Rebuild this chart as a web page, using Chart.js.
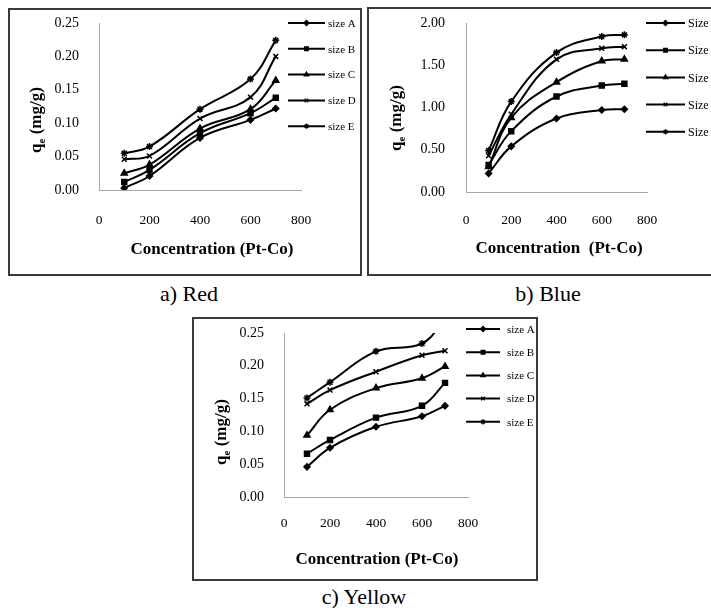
<!DOCTYPE html>
<html>
<head>
<meta charset="utf-8">
<script src="https://cdn.jsdelivr.net/npm/chart.js@4.4.1/dist/chart.umd.min.js"></script>
<style>
  body { margin: 0; background: #fff; width: 711px; height: 608px; overflow: hidden; position: relative; font-family: 'Liberation Serif', 'Times New Roman', serif; }
  .frame { position: absolute; border: 2px solid #3a3a3a; box-sizing: border-box; }
  canvas { position: absolute; }
  .cap { position: absolute; font-size: 22px; transform: translate(-50%, -50%); white-space: nowrap; color: #000; }
</style>
</head>
<body>
<div class="frame" style="left:8px;top:8px;width:354px;height:268px"></div>
<div class="frame" style="left:367px;top:7px;width:360px;height:269px"></div>
<div class="frame" style="left:192px;top:317px;width:346px;height:264px"></div>
<canvas id="chartRed" style="left:10px;top:10px" width="350" height="264"></canvas>
<canvas id="chartBlue" style="left:369px;top:9px" width="342" height="265"></canvas>
<canvas id="chartYellow" style="left:194px;top:319px" width="342" height="260"></canvas>
<div class="cap" style="left:189px;top:294px">a) Red</div>
<div class="cap" style="left:548px;top:294px">b) Blue</div>
<div class="cap" style="left:364px;top:597px">c) Yellow</div>
<script>
// concentration (Pt-Co) where qe was measured
const concentration = [100, 200, 400, 600, 700];
const sizeNames = ['size A', 'size B', 'size C', 'size D', 'size E'];
const sizeNamesBlue = ['Size A', 'Size B', 'Size C', 'Size D', 'Size E'];

// Red dye, qe (mg/g)
const redA = [0.003, 0.021, 0.078, 0.105, 0.122];
const redB = [0.012, 0.030, 0.085, 0.115, 0.138];
const redC = [0.025, 0.038, 0.092, 0.121, 0.164];
const redD = [0.046, 0.051, 0.107, 0.139, 0.200];
const redE = [0.055, 0.065, 0.121, 0.166, 0.224];

// Blue dye
const blueA = [0.22, 0.54, 0.87, 0.97, 0.98];
const blueB = [0.32, 0.72, 1.13, 1.26, 1.28];
const blueC = [0.30, 0.88, 1.30, 1.55, 1.57];
const blueD = [0.43, 0.92, 1.57, 1.70, 1.72];
const blueE = [0.49, 1.07, 1.65, 1.84, 1.86];

// Yellow dye (size E runs off the top of the axis at 700)
const yellowA = [0.046, 0.075, 0.107, 0.123, 0.139];
const yellowB = [0.066, 0.087, 0.121, 0.139, 0.174];
const yellowC = [0.094, 0.133, 0.166, 0.181, 0.199];
const yellowD = [0.142, 0.163, 0.191, 0.216, 0.223];
const yellowE = [0.151, 0.175, 0.222, 0.234, 0.272];

const markerStyles = ['rectRot', 'rect', 'triangle', 'crossRot', 'star'];
const markerSizes = [3, 3.5, 3.5, 3.5, 3.5];
const serif = "'Liberation Serif', 'Times New Roman', serif";

function buildDatasets(names, seriesList) {
	return seriesList.map((values, i) => ({
		label: names[i],
		data: concentration.map((c, j) => ({ x: c, y: values[j] })),
		borderColor: '#000',
		backgroundColor: '#000',
		borderWidth: 2,
		tension: 0.4,
		pointStyle: markerStyles[i],
		pointRadius: markerSizes[i],
		pointBorderWidth: 1.5,
		pointBorderColor: '#000',
		pointBackgroundColor: '#000'
	}));
}

// draws legend and the two axis titles at fixed spots in the canvas
const panelDecor = {
	id: 'panelDecor',
	afterDraw(chart, args, opts) {
		const ctx = chart.ctx;
		ctx.save();
		// legend
		chart.data.datasets.forEach((ds, i) => {
			let y = opts.legend.y + i * opts.legend.step;
			ctx.strokeStyle = '#000';
			ctx.lineWidth = 2;
			ctx.beginPath();
			ctx.moveTo(opts.legend.x0, y);
			ctx.lineTo(opts.legend.x1, y);
			ctx.stroke();
			let cx = (opts.legend.x0 + opts.legend.x1) / 2;
			ctx.fillStyle = '#000';
			ctx.lineWidth = 1.2;
			if (Chart.helpers && Chart.helpers.drawPoint) {
				Chart.helpers.drawPoint(ctx, { pointStyle: ds.pointStyle, radius: 2.6, rotation: 0, borderWidth: 1.2 }, cx, y);
			} else {
				ctx.fillRect(cx - 2.5, y - 2.5, 5, 5);
			}
			ctx.fillStyle = '#000';
			ctx.font = opts.legend.font + ' ' + serif;
			ctx.textAlign = 'left';
			ctx.textBaseline = 'middle';
			ctx.fillText(ds.label, opts.legend.tx, y + 1);
		});
		// x title
		ctx.font = 'bold 17px ' + serif;
		ctx.textAlign = 'center';
		ctx.textBaseline = 'middle';
		ctx.fillText(opts.xTitle.text, opts.xTitle.x, opts.xTitle.y);
		// y title with subscript e
		ctx.translate(opts.yTitle.x, opts.yTitle.y);
		ctx.rotate(-Math.PI / 2);
		ctx.textAlign = 'left';
		ctx.textBaseline = 'middle';
		ctx.font = 'bold 17px ' + serif;
		let wq = ctx.measureText('q').width;
		let wRest = ctx.measureText(' (mg/g)').width;
		ctx.font = 'bold 11px ' + serif;
		let we = ctx.measureText('e').width;
		let start = -(wq + we + wRest) / 2;
		ctx.font = 'bold 17px ' + serif;
		ctx.fillText('q', start, 0);
		ctx.font = 'bold 11px ' + serif;
		ctx.fillText('e', start + wq, 5);
		ctx.font = 'bold 17px ' + serif;
		ctx.fillText(' (mg/g)', start + wq + we, 0);
		ctx.restore();
	}
};

function makeChart(id, names, seriesList, box, yAxis, decor) {
	let canvas = document.getElementById(id);
	return new Chart(canvas.getContext('2d'), {
		type: 'line',
		data: { datasets: buildDatasets(names, seriesList) },
		options: {
			responsive: false,
			animation: false,
			layout: { padding: { left: 0, top: box.top, right: canvas.width - box.right, bottom: 0 } },
			plugins: {
				legend: { display: false },
				tooltip: { enabled: false },
				panelDecor: decor
			},
			scales: {
				x: {
					type: 'linear',
					min: 0, max: 800,
					ticks: { stepSize: 200, padding: box.xPad, color: '#000', font: { family: serif, size: 13.5 } },
					grid: { display: false, drawTicks: false },
					border: { display: true, color: '#a6a6a6', width: 1 },
					afterFit: (s) => { s.height = canvas.height - box.bottom; s.paddingLeft = 0; s.paddingRight = 0; }
				},
				y: {
					min: 0, max: yAxis.max,
					ticks: { stepSize: yAxis.step, padding: box.yPad, color: '#000', font: { family: serif, size: 14 },
						callback: (v) => v.toFixed(2) },
					grid: { display: false, drawTicks: false },
					border: { display: true, color: '#a6a6a6', width: 1 },
					afterFit: (s) => { s.width = box.left; s.paddingTop = 0; s.paddingBottom = 0; }
				}
			}
		},
		plugins: [panelDecor]
	});
}

let redChart = makeChart('chartRed', sizeNames, [redA, redB, redC, redD, redE],
	{ left: 89, right: 291, top: 13, bottom: 180, xPad: 22, yPad: 20 },
	{ max: 0.25, step: 0.05 },
	{ legend: { x0: 278, x1: 315, tx: 318, y: 13, step: 25.8, font: '11px' },
	  xTitle: { text: 'Concentration (Pt-Co)', x: 202, y: 240 },
	  yTitle: { x: 27, y: 110 } });

let blueChart = makeChart('chartBlue', sizeNamesBlue, [blueA, blueB, blueC, blueD, blueE],
	{ left: 97, right: 278, top: 14, bottom: 183, xPad: 20, yPad: 21 },
	{ max: 2, step: 0.5 },
	{ legend: { x0: 277, x1: 316, tx: 319, y: 14, step: 27.2, font: '12px' },
	  xTitle: { text: 'Concentration  (Pt-Co)', x: 190, y: 240 },
	  yTitle: { x: 28, y: 109 } });

let yellowChart = makeChart('chartYellow', sizeNames, [yellowA, yellowB, yellowC, yellowD, yellowE],
	{ left: 90, right: 274, top: 14, bottom: 178, xPad: 18, yPad: 20 },
	{ max: 0.25, step: 0.05 },
	{ legend: { x0: 272, x1: 306, tx: 313, y: 10, step: 23.2, font: '11px' },
	  xTitle: { text: 'Concentration (Pt-Co)', x: 183, y: 241 },
	  yTitle: { x: 28, y: 113 } });
</script>
</body>
</html>
